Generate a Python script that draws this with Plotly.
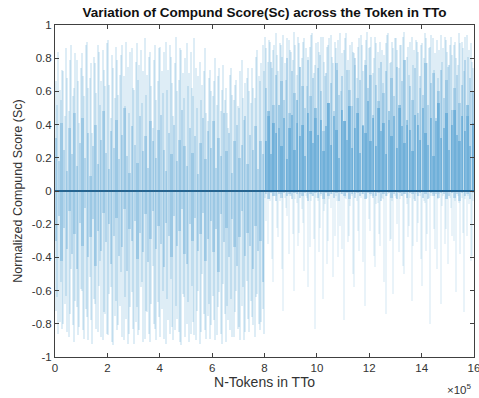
import numpy as np
import plotly.graph_objects as go

# Fine columns (tallest stems), every 5,000 tokens
n_fine = 320
fine_pos = 2500 + 5000 * np.arange(n_fine)
# Coarse columns (short stems), every 10,000 tokens
n_coarse = 160
coarse_pos = 5000 + 10000 * np.arange(n_coarse)

# Tallest positive Sc per fine column
pos_long = [
    0.66, 0.52, 0.84, 0.61, 0.55, 0.73, 0.72, 0.45, 0.86, 0.68,
    0.48, 0.79, 0.88, 0.57, 0.62, 0.83, 0.79, 0.66, 0.41, 0.74,
    0.83, 0.69, 0.57, 0.88, 0.90, 0.62, 0.68, 0.77, 0.35, 0.81,
    0.77, 0.59, 0.88, 0.84, 0.52, 0.66, 0.85, 0.73, 0.63, 0.89,
    0.91, 0.64, 0.44, 0.82, 0.74, 0.56, 0.87, 0.79, 0.58, 0.70,
    0.82, 0.88, 0.69, 0.51, 0.90, 0.75, 0.47, 0.84, 0.86, 0.62,
    0.61, 0.78, 0.89, 0.67, 0.76, 0.85, 0.53, 0.72, 0.92, 0.58,
    0.70, 0.81, 0.84, 0.63, 0.38, 0.79, 0.88, 0.55, 0.66, 0.86,
    0.87, 0.72, 0.59, 0.84, 0.90, 0.61, 0.73, 0.88, 0.81, 0.65,
    0.45, 0.77, 0.93, 0.60, 0.67, 0.86, 0.85, 0.71, 0.56, 0.80,
    0.89, 0.63, 0.71, 0.84, 0.62, 0.57, 0.92, 0.74, 0.50, 0.69,
    0.78, 0.55, 0.64, 0.72, 0.86, 0.47, 0.42, 0.68, 0.73, 0.60,
    0.57, 0.66, 0.80, 0.52, 0.69, 0.74, 0.48, 0.61, 0.76, 0.55,
    0.62, 0.47, 0.38, 0.70, 0.74, 0.58, 0.55, 0.64, 0.67, 0.51,
    0.50, 0.72, 0.79, 0.56, 0.43, 0.65, 0.68, 0.74, 0.60, 0.53,
    0.74, 0.62, 0.56, 0.81, 0.85, 0.69, 0.66, 0.77, 0.88, 0.72,
    0.93, 0.86, 0.78, 0.91, 0.90, 0.74, 0.85, 0.88, 0.95, 0.82,
    0.72, 0.89, 0.88, 0.81, 0.94, 0.77, 0.67, 0.92, 0.91, 0.85,
    0.84, 0.79, 0.96, 0.88, 0.70, 0.93, 0.89, 0.75, 0.80, 0.90,
    0.92, 0.86, 0.63, 0.81, 0.87, 0.94, 0.95, 0.71, 0.76, 0.89,
    0.90, 0.84, 0.82, 0.93, 0.93, 0.78, 0.69, 0.87, 0.88, 0.92,
    0.94, 0.81, 0.77, 0.90, 0.86, 0.73, 0.91, 0.95, 0.60, 0.83,
    0.85, 0.92, 0.95, 0.79, 0.73, 0.88, 0.90, 0.84, 0.83, 0.76,
    0.68, 0.87, 0.92, 0.94, 0.88, 0.72, 0.79, 0.91, 0.96, 0.86,
    0.87, 0.93, 0.71, 0.80, 0.93, 0.89, 0.84, 0.74, 0.90, 0.85,
    0.65, 0.82, 0.89, 0.94, 0.95, 0.77, 0.78, 0.90, 0.86, 0.92,
    0.92, 0.85, 0.74, 0.88, 0.88, 0.93, 0.96, 0.79, 0.81, 0.87,
    0.70, 0.90, 0.93, 0.76, 0.85, 0.91, 0.90, 0.84, 0.62, 0.88,
    0.89, 0.80, 0.95, 0.92, 0.77, 0.86, 0.87, 0.94, 0.92, 0.73,
    0.83, 0.91, 0.68, 0.85, 0.94, 0.78, 0.86, 0.93, 0.91, 0.84,
    0.75, 0.88, 0.93, 0.82, 0.88, 0.90, 0.80, 0.76, 0.95, 0.89,
    0.90, 0.86, 0.72, 0.93, 0.94, 0.81, 0.85, 0.89, 0.78, 0.74,
]

# Tallest negative Sc per fine column
neg_long = [
    -0.72, -0.64, -0.86, -0.79, -0.55, -0.83, -0.80, -0.68, -0.63, -0.85,
    -0.88, -0.74, -0.47, -0.81, -0.91, -0.66, -0.70, -0.87, -0.82, -0.59,
    -0.60, -0.84, -0.89, -0.71, -0.76, -0.90, -0.52, -0.78, -0.92, -0.65,
    -0.68, -0.83, -0.85, -0.57, -0.42, -0.88, -0.90, -0.73, -0.74, -0.86,
    -0.87, -0.62, -0.58, -0.91, -0.93, -0.75, -0.66, -0.84, -0.81, -0.69,
    -0.49, -0.88, -0.90, -0.64, -0.77, -0.92, -0.86, -0.70, -0.61, -0.83,
    -0.92, -0.79, -0.70, -0.87, -0.84, -0.58, -0.55, -0.91, -0.89, -0.72,
    -0.73, -0.86, -0.91, -0.68, -0.45, -0.80, -0.83, -0.90, -0.67, -0.76,
    -0.88, -0.71, -0.60, -0.89, -0.92, -0.65, -0.78, -0.86, -0.53, -0.82,
    -0.90, -0.84, -0.69, -0.77, -0.85, -0.91, -0.93, -0.62, -0.64, -0.88,
    -0.80, -0.67, -0.91, -0.86, -0.57, -0.79, -0.87, -0.90, -0.72, -0.60,
    -0.92, -0.85, -0.50, -0.74, -0.84, -0.89, -0.75, -0.68, -0.89, -0.81,
    -0.63, -0.78, -0.90, -0.87, -0.70, -0.61, -0.86, -0.92, -0.56, -0.74,
    -0.91, -0.69, -0.78, -0.84, -0.65, -0.88, -0.88, -0.73, -0.60, -0.83,
    -0.82, -0.90, -0.69, -0.58, -0.90, -0.85, -0.54, -0.77, -0.85, -0.66,
    -0.76, -0.81, -0.88, -0.64, -0.62, -0.80, -0.84, -0.79, -0.71, -0.86,
    -0.04, -0.18, -0.32, -0.05, -0.06, -0.41, -0.55, -0.03, -0.03, -0.22,
    -0.28, -0.06, -0.02, -0.47, -0.72, -0.04, -0.10, -0.15, -0.38, -0.03,
    -0.03, -0.26, -0.60, -0.05, -0.07, -0.33, -0.25, -0.02, -0.11, -0.19,
    -0.48, -0.03, -0.04, -0.58, -0.34, -0.06, -0.03, -0.29, -0.83, -0.04,
    -0.06, -0.37, -0.22, -0.03, -0.65, -0.12, -0.08, -0.44, -0.30, -0.05,
    -0.10, -0.02, -0.52, -0.27, -0.03, -0.06, -0.40, -0.21, -0.02, -0.35,
    -0.78, -0.04, -0.05, -0.31, -0.27, -0.09, -0.03, -0.50, -0.58, -0.02,
    -0.06, -0.24, -0.36, -0.04, -0.02, -0.43, -0.69, -0.05, -0.04, -0.17,
    -0.24, -0.03, -0.03, -0.39, -0.46, -0.08, -0.07, -0.26, -0.33, -0.04,
    -0.05, -0.55, -0.74, -0.03, -0.02, -0.30, -0.29, -0.06, -0.62, -0.03,
    -0.04, -0.20, -0.37, -0.05, -0.03, -0.45, -0.50, -0.02, -0.08, -0.28,
    -0.21, -0.04, -0.66, -0.33, -0.05, -0.02, -0.31, -0.19, -0.03, -0.41,
    -0.57, -0.06, -0.07, -0.36, -0.26, -0.04, -0.80, -0.03, -0.02, -0.23,
    -0.35, -0.47, -0.05, -0.02, -0.68, -0.09, -0.03, -0.32, -0.23, -0.05,
    -0.44, -0.04, -0.10, -0.27, -0.30, -0.06, -0.61, -0.03, -0.07, -0.38,
    -0.04, -0.25, -0.73, -0.05, -0.27, -0.03, -0.08, -0.42, -0.39, -0.06,
]

# Shorter positive stems per coarse column
pos_short = [
    0.32, 0.18, 0.41, 0.25, 0.12, 0.38, 0.22, 0.47, 0.15, 0.29,
    0.44, 0.20, 0.35, 0.09, 0.27, 0.40, 0.16, 0.31, 0.48, 0.23,
    0.13, 0.36, 0.26, 0.43, 0.19, 0.34, 0.50, 0.21, 0.11, 0.39,
    0.28, 0.17, 0.45, 0.24, 0.33, 0.14, 0.42, 0.30, 0.20, 0.37,
    0.46, 0.25, 0.12, 0.35, 0.22, 0.40, 0.18, 0.31, 0.49, 0.27,
    0.15, 0.38, 0.23, 0.33, 0.10, 0.29, 0.44, 0.19, 0.36, 0.26,
    0.42, 0.14, 0.32, 0.21, 0.47, 0.24, 0.35, 0.11, 0.30, 0.40,
    0.20, 0.28, 0.45, 0.16, 0.34, 0.25, 0.39, 0.13, 0.30, 0.22,
    0.62, 0.45, 0.78, 0.52, 0.70, 0.38, 0.66, 0.55, 0.80, 0.47,
    0.72, 0.59, 0.41, 0.75, 0.63, 0.50, 0.79, 0.57, 0.68, 0.44,
    0.74, 0.60, 0.36, 0.71, 0.53, 0.65, 0.48, 0.77, 0.58, 0.69,
    0.42, 0.73, 0.61, 0.51, 0.80, 0.56, 0.67, 0.39, 0.76, 0.62,
    0.70, 0.46, 0.64, 0.54, 0.78, 0.59, 0.72, 0.43, 0.68, 0.57,
    0.75, 0.50, 0.66, 0.79, 0.40, 0.63, 0.55, 0.74, 0.47, 0.69,
    0.58, 0.77, 0.52, 0.65, 0.71, 0.44, 0.60, 0.73, 0.56, 0.67,
    0.76, 0.49, 0.62, 0.70, 0.53, 0.64, 0.79, 0.45, 0.68, 0.60,
]

# Extra positive stems in the second half (coarse columns 80..159)
pos_extra = [
    0.30, 0.48, 0.22, 0.41, 0.35, 0.52, 0.27, 0.44, 0.19, 0.38,
    0.46, 0.25, 0.55, 0.33, 0.40, 0.21, 0.47, 0.36, 0.29, 0.50,
    0.34, 0.43, 0.24, 0.39, 0.53, 0.28, 0.45, 0.37, 0.20, 0.49,
    0.42, 0.31, 0.51, 0.26, 0.38, 0.47, 0.23, 0.40, 0.35, 0.54,
    0.30, 0.44, 0.27, 0.50, 0.36, 0.41, 0.22, 0.48, 0.33, 0.45,
    0.26, 0.52, 0.39, 0.29, 0.43, 0.37, 0.24, 0.46, 0.40, 0.31,
    0.50, 0.35, 0.28, 0.44, 0.21, 0.42, 0.53, 0.32, 0.38, 0.47,
    0.25, 0.40, 0.49, 0.34, 0.30, 0.45, 0.36, 0.52, 0.27, 0.41,
]

# Shorter negative stems per coarse column
neg_short = [
    -0.30, -0.15, -0.42, -0.22, -0.35, -0.12, -0.38, -0.26, -0.47, -0.19,
    -0.33, -0.10, -0.40, -0.28, -0.17, -0.45, -0.24, -0.36, -0.13, -0.31,
    -0.20, -0.44, -0.27, -0.16, -0.39, -0.34, -0.11, -0.48, -0.23, -0.30,
    -0.18, -0.41, -0.25, -0.37, -0.14, -0.43, -0.29, -0.12, -0.35, -0.21,
    -0.32, -0.46, -0.19, -0.27, -0.40, -0.15, -0.33, -0.24, -0.11, -0.38,
    -0.44, -0.20, -0.30, -0.16, -0.36, -0.26, -0.13, -0.42, -0.29, -0.18,
    -0.37, -0.23, -0.49, -0.14, -0.31, -0.22, -0.40, -0.17, -0.34, -0.45,
    -0.28, -0.12, -0.39, -0.25, -0.33, -0.47, -0.21, -0.36, -0.30, -0.55,
    -0.02, -0.05, -0.01, -0.03, -0.06, -0.02, -0.04, -0.01, -0.03, -0.02,
    -0.05, -0.01, -0.02, -0.04, -0.03, -0.01, -0.06, -0.02, -0.03, -0.01,
    -0.04, -0.02, -0.05, -0.01, -0.03, -0.02, -0.04, -0.01, -0.06, -0.02,
    -0.03, -0.01, -0.05, -0.02, -0.04, -0.01, -0.03, -0.02, -0.05, -0.01,
    -0.02, -0.04, -0.03, -0.01, -0.06, -0.02, -0.03, -0.01, -0.04, -0.02,
    -0.05, -0.01, -0.03, -0.02, -0.04, -0.01, -0.02, -0.06, -0.03, -0.01,
    -0.04, -0.02, -0.05, -0.01, -0.03, -0.02, -0.04, -0.01, -0.02, -0.05,
    -0.03, -0.01, -0.04, -0.02, -0.06, -0.01, -0.03, -0.02, -0.05, -0.01,
]

assert len(pos_long) == n_fine and len(neg_long) == n_fine
assert len(pos_short) == n_coarse and len(neg_short) == n_coarse
assert len(pos_extra) == n_coarse // 2

x_tick_vals = [0, 2e5, 4e5, 6e5, 8e5, 10e5, 12e5, 14e5, 16e5]
x_tick_text = ["0", "2", "4", "6", "8", "10", "12", "14", "16"]
y_tick_vals = [-1, -0.8, -0.6, -0.4, -0.2, 0, 0.2, 0.4, 0.6, 0.8, 1]
y_tick_text = ["-1", "-0.8", "-0.6", "-0.4", "-0.2", "0", "0.2", "0.4", "0.6", "0.8", "1"]

BAR_COLOR = "rgb(0,114,189)"
OP_LONG = 0.13
OP_SHORT = 0.19
OP_EXTRA = 0.28
W_FINE = 4000
W_COARSE = 9000
hf = n_fine // 2
hc = n_coarse // 2

fig = go.Figure()
layers = [
    (coarse_pos, pos_short, W_COARSE, OP_SHORT),
    (coarse_pos[hc:], pos_extra, W_COARSE, OP_EXTRA),
    (coarse_pos, neg_short, W_COARSE, OP_SHORT),
    (fine_pos, pos_long, W_FINE, OP_LONG),
    (fine_pos[:hf], neg_long[:hf], W_FINE, OP_LONG),
    (fine_pos[hf:], neg_long[hf:], W_FINE, OP_LONG * 0.65),
]
for xs, ys, w, op in layers:
    fig.add_trace(go.Bar(
        x=xs, y=ys, width=w,
        marker=dict(color=BAR_COLOR, opacity=op, line=dict(width=0)),
        showlegend=False, hoverinfo="skip",
    ))

AX = "#404040"
FONT = "Liberation Sans, Arial, sans-serif"

fig.update_layout(
    width=479, height=398,
    margin=dict(l=55, r=5, t=25, b=41, autoexpand=False),
    paper_bgcolor="white", plot_bgcolor="white",
    barmode="overlay", bargap=0,
    font=dict(family=FONT, size=11, color="#262626"),
    title=dict(
        text="<b>Variation of Compund Score(Sc) across the Token in TTo</b>",
        x=0.5, xref="paper", xanchor="center",
        y=1 - 12 / 398, yref="container", yanchor="middle",
        font=dict(family=FONT, size=13.5, color="#111111"),
    ),
    xaxis=dict(
        range=[0, 16e5], tickvals=x_tick_vals, ticktext=x_tick_text,
        ticks="inside", ticklen=4, tickcolor=AX, tickwidth=1,
        showline=True, linecolor=AX, linewidth=1, mirror="ticks",
        showgrid=False, zeroline=False, ticklabeloverflow="allow",
        automargin=False,
        tickfont=dict(size=11.5, color="#333333"),
        title=dict(text="N-Tokens in TTo", standoff=4,
                   font=dict(size=14, color="#333333")),
    ),
    yaxis=dict(
        range=[-1, 1], tickvals=y_tick_vals, ticktext=y_tick_text,
        ticks="inside", ticklen=4, tickcolor=AX, tickwidth=1,
        showline=True, linecolor=AX, linewidth=1, mirror="ticks",
        showgrid=False, automargin=False,
        zeroline=True, zerolinecolor="rgb(60,95,125)", zerolinewidth=1.5,
        layer="above traces",
        tickfont=dict(size=11.5, color="#333333"),
        title=dict(text="Normalized Compund Score (Sc)", standoff=6,
                   font=dict(size=12.5, color="#333333")),
    ),
    annotations=[dict(
        text="×10<sup>5</sup>", xref="paper", yref="paper",
        x=1.0, y=-0.095, xanchor="right", yanchor="middle",
        showarrow=False, font=dict(family=FONT, size=11.5, color="#333333"),
    )],
)

fig.write_html("out.html")
